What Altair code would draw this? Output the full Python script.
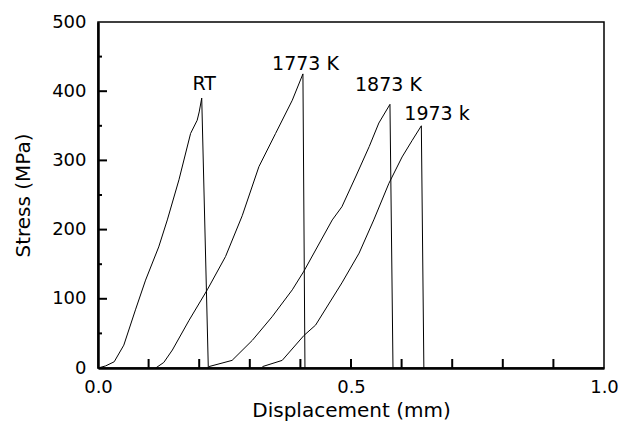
import altair as alt
import pandas as pd

# Stress-displacement curves (x: mm, y: MPa)
rt_x = [0.0, 0.015, 0.032, 0.051, 0.074, 0.094, 0.12, 0.137, 0.16, 0.183, 0.196, 0.2, 0.205, 0.218]
rt_y = [0, 3, 9, 33, 84, 127, 175, 214, 272, 339, 358, 370, 390, 0]

k1773_x = [0.114, 0.13, 0.147, 0.18, 0.216, 0.252, 0.285, 0.318, 0.351, 0.384, 0.405, 0.409]
k1773_y = [0, 8, 26, 69, 113, 161, 220, 291, 339, 387, 425, 0]

k1873_x = [0.219, 0.265, 0.305, 0.344, 0.384, 0.407, 0.463, 0.482, 0.509, 0.536, 0.555, 0.577, 0.583]
k1873_y = [2, 11, 40, 74, 113, 140, 214, 233, 276, 320, 354, 381, 0]

k1973_x = [0.325, 0.364, 0.407, 0.43, 0.482, 0.516, 0.545, 0.575, 0.601, 0.621, 0.639, 0.644]
k1973_y = [2, 11, 47, 62, 123, 166, 214, 267, 305, 329, 350, 0]

series_names = ["RT", "1773 K", "1873 K", "1973 k"]
label_x = [0.21, 0.41, 0.574, 0.67]
label_y = [410, 440, 409, 367]

x_minor_ticks = [0.1, 0.2, 0.3, 0.4, 0.5, 0.6, 0.7, 0.8, 0.9]
y_major_ticks = [100, 200, 300, 400]
y_minor_ticks = [50, 150, 250, 350, 450]
x_labels = [0.0, 0.5, 1.0]
y_labels = [0, 100, 200, 300, 400, 500]

rows = []
for name, xs_, ys_ in zip(series_names, [rt_x, k1773_x, k1873_x, k1973_x],
                          [rt_y, k1773_y, k1873_y, k1973_y]):
    for i, (x, y) in enumerate(zip(xs_, ys_)):
        rows.append({"series": name, "x": x, "y": y, "i": i})
df = pd.DataFrame(rows)

lab_df = pd.DataFrame({"label": series_names, "x": label_x, "y": label_y})
xt_df = pd.DataFrame({"x": x_minor_ticks})
ytM_df = pd.DataFrame({"y": y_major_ticks})
ytm_df = pd.DataFrame({"y": y_minor_ticks})

FONT = "DejaVu Sans"
xs = alt.Scale(domain=[0, 1], nice=False)
ys = alt.Scale(domain=[0, 500], nice=False)

lines = alt.Chart(df).mark_line(color="black", strokeWidth=1, interpolate="linear").encode(
    x=alt.X("x:Q", scale=xs, axis=alt.Axis(
        title="Displacement (mm)", values=x_labels, format=".1f", ticks=False,
        labelFlush=False, labelPadding=10, titlePadding=4, domainWidth=2.5)),
    y=alt.Y("y:Q", scale=ys, axis=alt.Axis(
        title="Stress (MPa)", values=y_labels, format="d", ticks=False,
        labelFlush=False, labelPadding=12, titlePadding=18, domainWidth=2.5)),
    detail="series:N",
    order="i:Q",
)

labels = alt.Chart(lab_df).mark_text(
    font=FONT, fontSize=19, color="black", align="center", baseline="middle"
).encode(x=alt.X("x:Q", scale=xs), y=alt.Y("y:Q", scale=ys), text="label:N")

xticks = alt.Chart(xt_df).mark_rule(color="black", strokeWidth=2).encode(
    x=alt.X("x:Q", scale=xs), y=alt.value(346), y2=alt.value(337))

ytick_major = alt.Chart(ytM_df).mark_rule(color="black", strokeWidth=2).encode(
    y=alt.Y("y:Q", scale=ys), x=alt.value(0), x2=alt.value(9))

ytick_minor = alt.Chart(ytm_df).mark_rule(color="black", strokeWidth=2).encode(
    y=alt.Y("y:Q", scale=ys), x=alt.value(0), x2=alt.value(4))

chart = alt.layer(lines, xticks, ytick_major, ytick_minor, labels).properties(
    width=506, height=346,
    background="white",
    autosize=alt.AutoSizeParams(type="none"),
    padding={"left": 90, "top": 14, "right": 17, "bottom": 58},
).configure_view(
    stroke="black", strokeWidth=1.5
).configure_axis(
    grid=False, domainColor="black", labelColor="black", titleColor="black",
    labelFont=FONT, titleFont=FONT, labelFontSize=18, titleFontSize=20,
    titleFontWeight="normal",
)

chart.save("out.html", embed_options={"renderer": "svg", "actions": False})
